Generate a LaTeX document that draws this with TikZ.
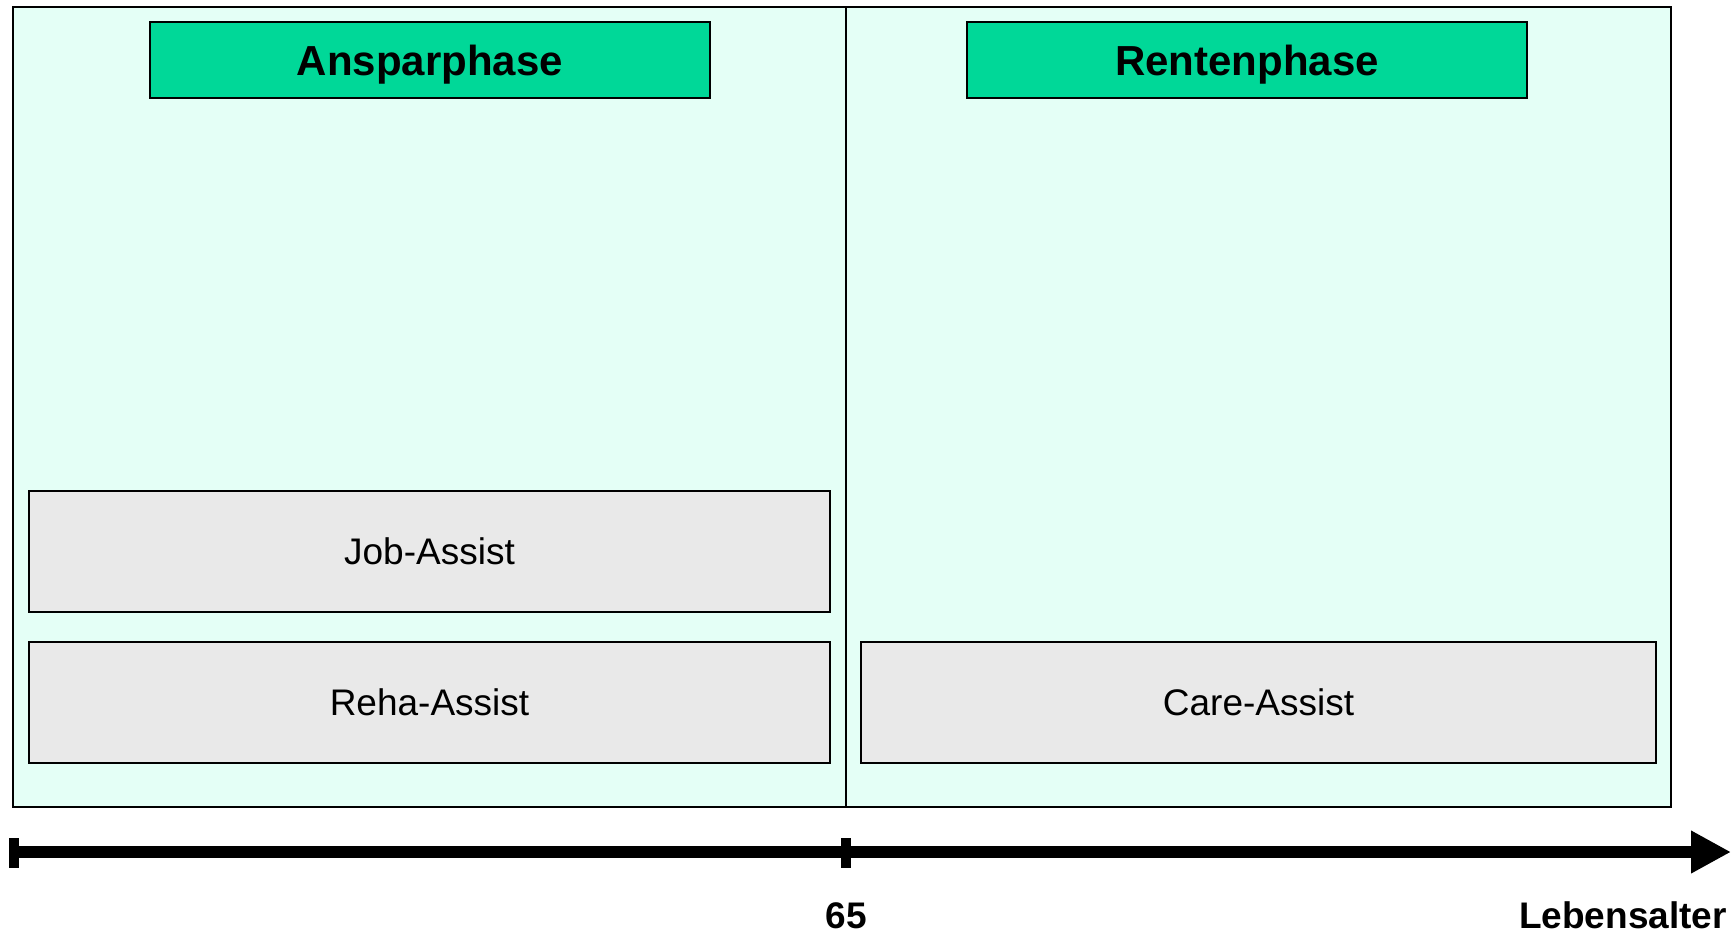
\documentclass[tikz,border=0pt]{standalone}
\usepackage{fontspec}
\setmainfont{Liberation Sans}
\usetikzlibrary{arrows.meta}
\definecolor{mint}{HTML}{E4FFF6}
\definecolor{phasegreen}{HTML}{00D898}
\definecolor{boxgray}{HTML}{E9E9E9}
\tikzset{
  panel/.style={draw=black, fill=mint, line width=2.2pt},
  divider/.style={draw=black, line width=1.6pt},
  phasebox/.style={draw=black, fill=phasegreen, line width=2.2pt, minimum width=560pt, minimum height=76pt, inner sep=0pt, text depth=0pt, font=\fontsize{42}{42}\selectfont\bfseries},
  assistbox/.style={draw=black, fill=boxgray, line width=2.2pt, minimum height=121pt, inner sep=0pt, font=\fontsize{37}{37}\selectfont},
  axisline/.style={line width=12pt, -{Triangle[length=40pt 0 0, width=40pt 0 0]}},
  tickmark/.style={line width=10pt},
  axislabel/.style={font=\fontsize{37}{37}\selectfont\bfseries, inner sep=0pt}
}
\begin{document}
\begin{tikzpicture}[x=1pt,y=-1pt]
\useasboundingbox (0,0) rectangle (1731,933);
\draw[panel] (13,7) rectangle (1671,807);
\draw[divider] (846,7) -- (846,807);
\node[phasebox] (ansp) at (430,60) {Ansparphase};
\node[phasebox] (rent) at (1247,60) {Rentenphase};
\node[assistbox, minimum width=801pt] (job) at (429.5,551.5) {Job-Assist};
\node[assistbox, minimum width=801pt] (reha) at (429.5,702.5) {Reha-Assist};
\node[assistbox, minimum width=795pt] (care) at (1258.5,702.5) {Care-Assist};
\coordinate (a0) at (13,852);
\coordinate (a65) at (846,852);
\coordinate (aend) at (1731,852);
\draw[axisline] (a0) -- (aend);
\draw[tickmark] (13.5,838) -- (13.5,868);
\draw[tickmark] (846,838) -- (846,868);
\node[axislabel, anchor=base] (l65) at (846,928) {65};
\node[axislabel, anchor=base east] (lage) at (1727,928) {Lebensalter};
\end{tikzpicture}
\end{document}
